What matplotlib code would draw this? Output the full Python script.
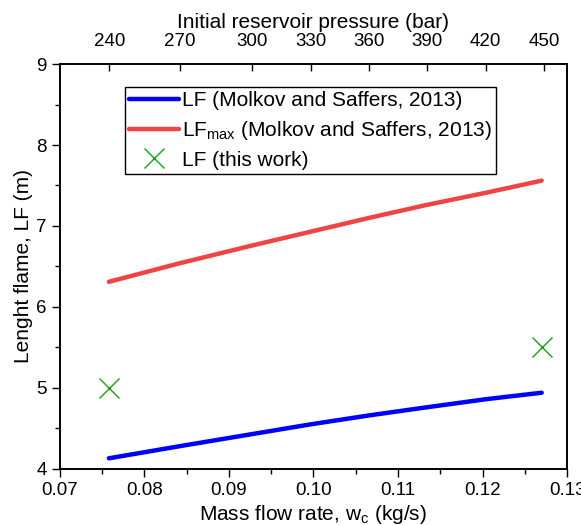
import numpy as np
import matplotlib
matplotlib.use('Agg')
import matplotlib.pyplot as plt
from matplotlib.ticker import MultipleLocator

plt.rcParams['font.family'] = ['Liberation Sans', 'DejaVu Sans']

# data
flow = [0.0758, 0.0842, 0.0928, 0.0997, 0.1066, 0.1134, 0.1204, 0.1270]
lf_molkov = [4.13, 4.28, 4.43, 4.55, 4.66, 4.76, 4.86, 4.94]
lf_max = [6.31, 6.54, 6.76, 6.93, 7.10, 7.26, 7.41, 7.56]
flow_this = [0.0758, 0.1270]
lf_this = [5.0, 5.5]

# top axis: pressure ticks and the flow rate they sit at
pressure = [240, 270, 300, 330, 360, 390, 420, 450]
pressure_flow = [0.07586, 0.08419, 0.09278, 0.09966, 0.10657, 0.11340, 0.12036, 0.12728]

fig = plt.figure(figsize=(5.81, 5.25), dpi=100)
ax = fig.add_axes([0.103, 0.107, 0.873, 0.771])

ax.plot(flow, lf_molkov, color='#0000ff', lw=3.2, solid_capstyle='round',
        label='LF (Molkov and Saffers, 2013)')
ax.plot(flow, lf_max, color='#f04444', lw=3.2, solid_capstyle='round',
        label='LF$_{\\mathregular{max}}$ (Molkov and Saffers, 2013)')
ax.plot(flow_this, lf_this, ls='none', marker='x', ms=15, mew=1.0,
        color='#12a012', label='LF (this work)')

ax.set_xlim(0.07, 0.13)
ax.set_ylim(4, 9)
ax.xaxis.set_minor_locator(MultipleLocator(0.005))
ax.yaxis.set_major_locator(MultipleLocator(1))
ax.yaxis.set_minor_locator(MultipleLocator(0.5))
ax.set_xticks(np.arange(0.07, 0.1301, 0.01))
ax.set_xticklabels(['0.07', '0.08', '0.09', '0.10', '0.11', '0.12', '0.13'])
ax.tick_params(which='major', direction='out', length=6, width=1, labelsize=13.5,
               top=False, right=False)
ax.tick_params(which='minor', direction='out', length=3.5, width=1,
               top=False, right=False)
ax.set_xlabel('Mass flow rate, w$_{\\mathregular{c}}$ (kg/s)', fontsize=15, labelpad=3)
ax.set_ylabel('Lenght flame, LF (m)', fontsize=15, labelpad=2)

ax2 = ax.twiny()
ax2.set_xlim(ax.get_xlim())
ax2.set_xticks(pressure_flow)
ax2.set_xticklabels([str(p) for p in pressure])
ax2.tick_params(axis='x', direction='in', length=5, width=1, labelsize=13.5, pad=10)
ax2.set_xlabel('Initial reservoir pressure (bar)', fontsize=15, labelpad=4)

for a in (ax, ax2):
    for s in a.spines.values():
        s.set_linewidth(1.2)

leg = ax.legend(loc='upper left', bbox_to_anchor=(0.128, 0.943), fontsize=15,
                frameon=True, fancybox=False, edgecolor='black', framealpha=1,
                borderpad=0.2, borderaxespad=0, handlelength=2.4, handletextpad=0.15,
                labelspacing=0.42)
leg.get_frame().set_linewidth(1.0)

fig.savefig('out.png', dpi=100)
